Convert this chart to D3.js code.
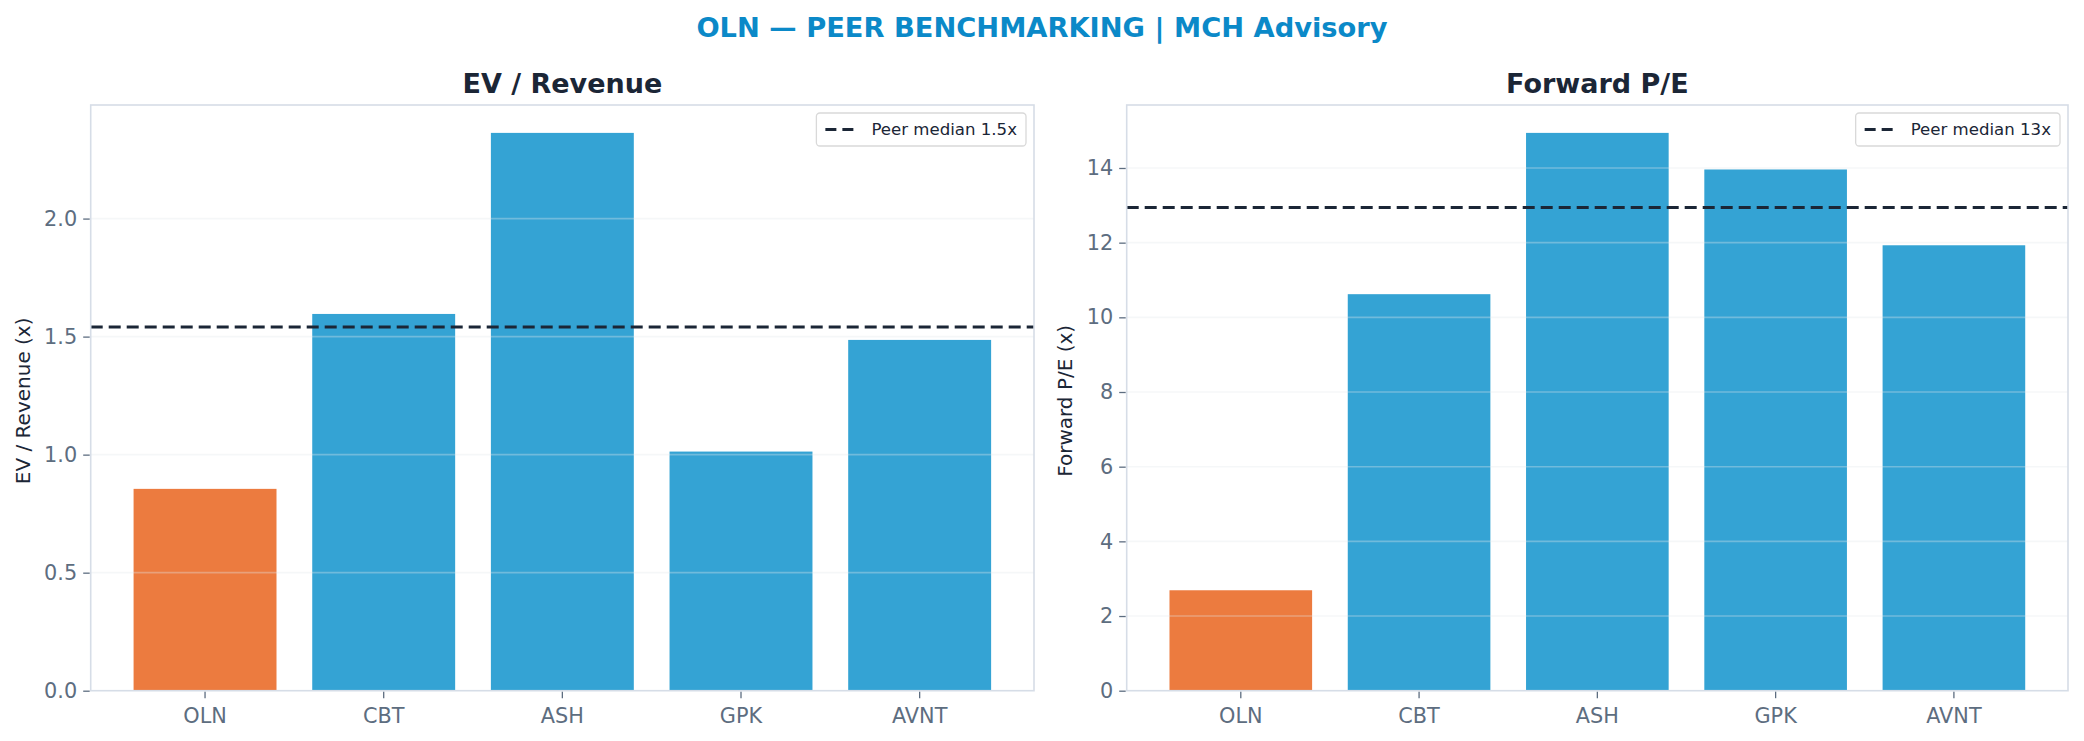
<!DOCTYPE html>
<html>
<head>
<meta charset="utf-8">
<script src="https://cdn.jsdelivr.net/npm/d3@7"></script>
<style>
  html, body { margin: 0; padding: 0; background: #fff; }
  svg { display: block; font-family: "DejaVu Sans", sans-serif; }
</style>
</head>
<body>
<svg id="chart" width="2084" height="741"></svg>
<script>
// tickers and values
const tickers = ['OLN', 'CBT', 'ASH', 'GPK', 'AVNT'];
const evRevenue = [0.855, 1.596, 2.363, 1.013, 1.486];
const forwardPE = [2.69, 10.62, 14.94, 13.96, 11.93];
const evTicks = [0, 0.5, 1.0, 1.5, 2.0];
const peTicks = [0, 2, 4, 6, 8, 10, 12, 14];

const focusColor = '#ec7b3f';
const peerColor = '#34a3d4';
const inkColor = '#1b2636';
const tickColor = '#5d6d80';
const spineColor = '#d6dde7';

const svg = d3.select('#chart');

svg.append('text')
  .attr('x', 1042)
  .attr('y', 37)
  .attr('text-anchor', 'middle')
  .attr('font-size', 27.3)
  .attr('font-weight', 'bold')
  .attr('fill', '#0b89c8')
  .text('OLN \u2014 PEER BENCHMARKING | MCH Advisory');

function drawPanel(opts) {
  const { left, right, top, bottom, values, ticks, fmt, title, ylabel, ylabelX, medianFmt } = opts;

  const g = svg.append('g');

  const x = d3.scaleBand()
    .domain(tickers)
    .range([left, right])
    .paddingInner(0.2)
    .paddingOuter(0.24);

  const y = d3.scaleLinear()
    .domain([0, d3.max(values) * 1.05])
    .range([bottom, top]);

  const median = d3.median(values.slice(1));

  // bars
  g.selectAll('rect.bar')
    .data(values)
    .join('rect')
    .attr('class', 'bar')
    .attr('x', (d, i) => x(tickers[i]))
    .attr('y', d => y(d))
    .attr('width', x.bandwidth())
    .attr('height', d => y(0) - y(d))
    .attr('fill', (d, i) => i === 0 ? focusColor : peerColor);

  // faint grid over the bars
  g.append('g')
    .selectAll('line')
    .data(ticks.slice(1))
    .join('line')
    .attr('x1', left)
    .attr('x2', right)
    .attr('y1', d => y(d))
    .attr('y2', d => y(d))
    .attr('stroke', '#e3e7ec')
    .attr('stroke-opacity', 0.35)
    .attr('stroke-width', 1.6);

  // median line
  g.append('line')
    .attr('x1', left)
    .attr('x2', right)
    .attr('y1', y(median))
    .attr('y2', y(median))
    .attr('stroke', inkColor)
    .attr('stroke-width', 3)
    .attr('stroke-dasharray', '12,6');

  // spines
  g.append('rect')
    .attr('x', left)
    .attr('y', top)
    .attr('width', right - left)
    .attr('height', bottom - top)
    .attr('fill', 'none')
    .attr('stroke', spineColor)
    .attr('stroke-width', 1.6);

  const yAxis = g.append('g')
    .attr('transform', `translate(${left - 1},0)`)
    .call(d3.axisLeft(y).tickValues(ticks).tickFormat(fmt).tickSize(6.5).tickPadding(6));
  yAxis.select('.domain').remove();
  yAxis.selectAll('.tick line').attr('stroke', tickColor).attr('stroke-width', 1.3);
  yAxis.selectAll('.tick text').attr('fill', tickColor).attr('font-size', 20.8).attr('font-family', '"DejaVu Sans", sans-serif');

  const xAxis = g.append('g')
    .attr('transform', `translate(0,${bottom + 1})`)
    .call(d3.axisBottom(x).tickSize(6.5).tickPadding(10));
  xAxis.select('.domain').remove();
  xAxis.selectAll('.tick line').attr('stroke', tickColor).attr('stroke-width', 1.3);
  xAxis.selectAll('.tick text').attr('fill', tickColor).attr('font-size', 20.8).attr('font-family', '"DejaVu Sans", sans-serif');

  g.append('text')
    .attr('x', (left + right) / 2)
    .attr('y', top - 12)
    .attr('text-anchor', 'middle')
    .attr('font-size', 27)
    .attr('font-weight', 'bold')
    .attr('fill', inkColor)
    .text(title);

  g.append('text')
    .attr('transform', `translate(${ylabelX},${(top + bottom) / 2 + 3}) rotate(-90)`)
    .attr('text-anchor', 'middle')
    .attr('dy', '0.35em')
    .attr('font-size', 20)
    .attr('fill', inkColor)
    .text(ylabel);

  // legend
  const legendLabel = 'Peer median ' + medianFmt(median) + 'x';
  const lg = g.append('g');
  const txt = lg.append('text')
    .attr('font-size', 16.6)
    .attr('fill', inkColor)
    .text(legendLabel);
  const tw = txt.node().getComputedTextLength();
  const boxW = tw + 64;
  const boxX = right - 8 - boxW;
  const boxY = top + 8;
  lg.insert('rect', 'text')
    .attr('x', boxX)
    .attr('y', boxY)
    .attr('width', boxW)
    .attr('height', 33)
    .attr('rx', 3.5)
    .attr('fill', '#fff')
    .attr('fill-opacity', 0.85)
    .attr('stroke', '#d9d9d9')
    .attr('stroke-width', 1.3);
  lg.append('line')
    .attr('x1', boxX + 9)
    .attr('x2', boxX + 38)
    .attr('y1', boxY + 16.5)
    .attr('y2', boxY + 16.5)
    .attr('stroke', inkColor)
    .attr('stroke-width', 3)
    .attr('stroke-dasharray', '11,6');
  txt.attr('x', boxX + 55).attr('y', boxY + 16.5).attr('dy', '0.35em');
}

drawPanel({
  left: 90.7, right: 1034, top: 105, bottom: 690.7,
  values: evRevenue, ticks: evTicks, fmt: d3.format('.1f'),
  title: 'EV / Revenue', ylabel: 'EV / Revenue (x)', ylabelX: 23,
  medianFmt: d3.format('.1f')
});

drawPanel({
  left: 1126.7, right: 2068, top: 105, bottom: 690.7,
  values: forwardPE, ticks: peTicks, fmt: d3.format('d'),
  title: 'Forward P/E', ylabel: 'Forward P/E (x)', ylabelX: 1065,
  medianFmt: d3.format('.0f')
});
</script>
</body>
</html>
